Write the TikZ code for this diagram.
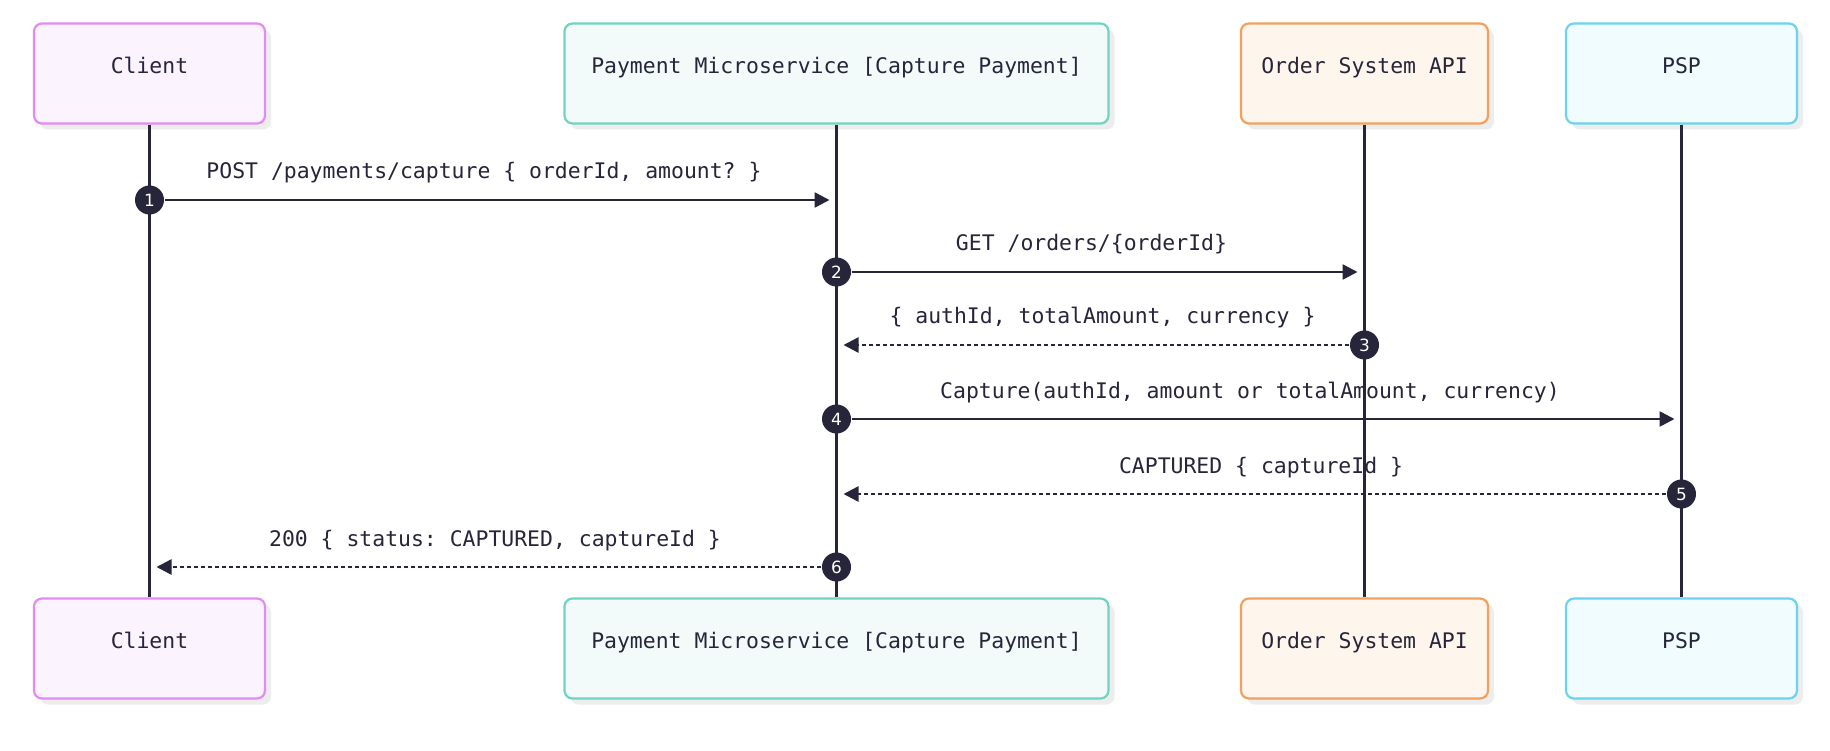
\documentclass[tikz,border=0pt]{standalone}
\usepackage{fontspec}
\setmonofont{DejaVu Sans Mono}
\newfontfamily\seqnumfont{DejaVu Sans}
\usetikzlibrary{positioning,calc,arrows.meta,shadows}
\definecolor{sqink}{HTML}{26253A}
\definecolor{sqshadow}{HTML}{EDEDED}
\definecolor{clientline}{HTML}{E28BF2}
\definecolor{clientfill}{HTML}{FBF3FD}
\definecolor{payline}{HTML}{6FD4C1}
\definecolor{payfill}{HTML}{F2FBF9}
\definecolor{orderline}{HTML}{F2A05D}
\definecolor{orderfill}{HTML}{FEF6EC}
\definecolor{pspline}{HTML}{6BD3EC}
\definecolor{pspfill}{HTML}{F0FCFE}
\tikzset{
  seqfont/.style={font=\ttfamily\fontsize{6.1pt}{7pt}\selectfont},
  actorbox/.style={seqfont,text=sqink,rounded corners=0.08cm,line width=0.022cm,
    minimum height=1cm,text height=0.18cm,text depth=0.18cm,
    general shadow={fill=sqshadow,shadow xshift=0.06cm,shadow yshift=-0.06cm}},
  lifeline/.style={sqink,line width=0.028cm},
  msgdot/.style={circle,fill=sqink,text=white,inner sep=0pt,minimum size=0.29cm,
    font=\seqnumfont\fontsize{4.8pt}{5pt}\selectfont},
  callmsg/.style={sqink,line width=0.026cm,-{Triangle[length=0.15cm,width=0.15cm]},shorten >=0.07cm},
  replymsg/.style={callmsg,dash pattern=on 0.04cm off 0.03cm},
  msglabel/.style={seqfont,text=sqink,anchor=base,yshift=0.21cm}
}
% #1 name, #2 x, #3 width, #4 colour stem, #5 text
\newcommand{\sqactor}[5]{%
  \node[actorbox,draw=#4line,fill=#4fill,minimum width=#3cm] (#1top) at (#2,6.765) {#5};
  \node[actorbox,draw=#4line,fill=#4fill,minimum width=#3cm] (#1bot) at (#2,1.015) {#5};
  \draw[lifeline] (#1top) -- (#1bot);
}

\begin{document}
\begin{tikzpicture}
  % ---------- canvas ----------
  \fill[white] (0,0) rectangle (18.3,7.5);
  \useasboundingbox (0,0) rectangle (18.3,7.5);
  % ---------- participants ----------
  \sqactor{client}{1.495}{2.31}{client}{Client}
  \sqactor{pay}{8.365}{5.44}{pay}{Payment Microservice [Capture Payment]}
  \sqactor{order}{13.645}{2.47}{order}{Order System API}
  \sqactor{psp}{16.815}{2.31}{psp}{PSP}
  % ---------- requests ----------
  \foreach \i/\src/\dst/\yy/\txt in {%
      1/client/pay/5.50/{POST /payments/capture \{ orderId, amount? \}},
      2/pay/order/4.78/{GET /orders/\{orderId\}},
      4/pay/psp/3.31/{Capture(authId, amount or totalAmount, currency)}}{
    \coordinate (m\i) at (0,\yy);
    \node[msgdot] (s\i) at (\src top |- m\i) {\i};
    \draw[callmsg] (s\i) -- (s\i -| \dst top);
    \node[msglabel,xshift=-0.09cm] (t\i) at ($(s\i)!0.5!(s\i -| \dst top)$) {\txt};}
  % ---------- replies ----------
  \foreach \i/\src/\dst/\yy/\txt in {%
      3/order/pay/4.05/{\{ authId, totalAmount, currency \}},
      5/psp/pay/2.56/{CAPTURED \{ captureId \}},
      6/pay/client/1.83/{200 \{ status: CAPTURED, captureId \}}}{
    \coordinate (m\i) at (0,\yy);
    \node[msgdot] (s\i) at (\src top |- m\i) {\i};
    \draw[replymsg] (s\i) -- (s\i -| \dst top);
    \node[msglabel,xshift=0.02cm] (t\i) at ($(s\i)!0.5!(s\i -| \dst top)$) {\txt};}
\end{tikzpicture}
\end{document}
